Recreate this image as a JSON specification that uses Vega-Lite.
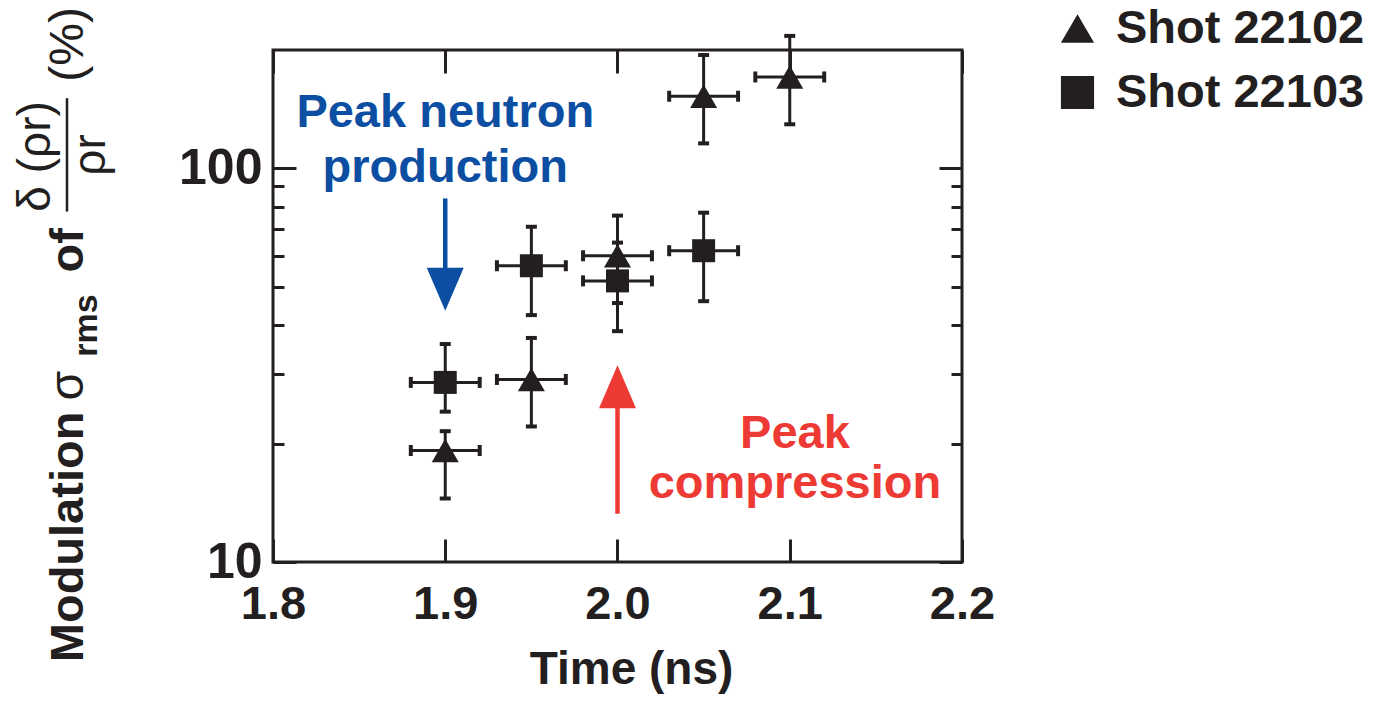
{
  "$schema": "https://vega.github.io/schema/vega-lite/v6.json",
  "width": 689,
  "height": 512,
  "autosize": "none",
  "padding": {"left": 273, "top": 50, "right": 418, "bottom": 141},
  "background": "white",
  "config": {
    "view": {"stroke": "#231f20", "strokeWidth": 3},
    "font": "Liberation Sans"
  },
  "datasets": {
    "shots": [
      {"series": "Shot 22102", "time": 1.90, "value": 19.2, "lo": 14.5, "hi": 21.5, "tlo": 1.88, "thi": 1.92},
      {"series": "Shot 22102", "time": 1.95, "value": 29.1, "lo": 22.1, "hi": 37.1, "tlo": 1.93, "thi": 1.97},
      {"series": "Shot 22102", "time": 2.00, "value": 60.0, "lo": 45.5, "hi": 75.9, "tlo": 1.98, "thi": 2.02},
      {"series": "Shot 22102", "time": 2.05, "value": 152.6, "lo": 115.8, "hi": 194.2, "tlo": 2.03, "thi": 2.07},
      {"series": "Shot 22102", "time": 2.10, "value": 170.8, "lo": 129.5, "hi": 217.2, "tlo": 2.08, "thi": 2.12},
      {"series": "Shot 22103", "time": 1.90, "value": 28.6, "lo": 24.1, "hi": 35.8, "tlo": 1.88, "thi": 1.92},
      {"series": "Shot 22103", "time": 1.95, "value": 56.6, "lo": 42.4, "hi": 71.1, "tlo": 1.93, "thi": 1.97},
      {"series": "Shot 22103", "time": 2.00, "value": 51.8, "lo": 38.6, "hi": 64.8, "tlo": 1.98, "thi": 2.02},
      {"series": "Shot 22103", "time": 2.05, "value": 61.8, "lo": 46.0, "hi": 77.2, "tlo": 2.03, "thi": 2.07}
    ],
    "blueArrow": [{"time": 1.9, "top": 83.9, "bottom": 52.4, "head": 49.3}],
    "redArrow": [{"time": 2.0, "top": 25.15, "bottom": 13.26, "head": 27.87}],
    "blueText": [
      {"text": "Peak neutron", "time": 1.9, "value": 127.2},
      {"text": "production", "time": 1.9, "value": 92.6}
    ],
    "redText": [
      {"text": "Peak", "time": 2.103, "value": 19.54},
      {"text": "compression", "time": 2.103, "value": 14.57}
    ],
    "titleBold": [
      {"text": "Modulation", "time": 1.6897, "value": 11.58},
      {"text": "of", "time": 1.6897, "value": 61.96}
    ],
    "titleRegular": [
      {"text": "σ", "time": 1.6897, "value": 28.04},
      {"text": "(%)", "time": 1.6897, "value": 206.6}
    ],
    "titleSub": [
      {"text": "rms", "time": 1.6978, "value": 39.88}
    ],
    "titleFrac": [
      {"text": "δ (ρr)", "time": 1.6705, "value": 107.3},
      {"text": "ρr", "time": 1.7025, "value": 108.2}
    ],
    "fracBar": [{"time": 1.6804, "lo": 77.7, "hi": 150.9}]
  },
  "layer": [
    {
      "data": {"name": "shots"},
      "mark": {"type": "errorbar", "ticks": {"size": 11, "thickness": 4, "opacity": 1, "color": "#231f20"}, "rule": {"strokeWidth": 3, "opacity": 1, "color": "#231f20"}, "color": "#231f20", "clip": false},
      "encoding": {
        "x": {"field": "time", "type": "quantitative", "scale": {"domain": [1.8, 2.2], "nice": false, "zero": false}, "axis": null},
        "y": {"field": "lo", "type": "quantitative", "scale": {"type": "log", "domain": [10, 200], "nice": false}, "axis": null},
        "y2": {"field": "hi"}
      }
    },
    {
      "data": {"name": "shots"},
      "mark": {"type": "errorbar", "ticks": {"size": 11, "thickness": 4, "opacity": 1, "color": "#231f20"}, "rule": {"strokeWidth": 3, "opacity": 1, "color": "#231f20"}, "color": "#231f20", "clip": false},
      "encoding": {
        "y": {"field": "value", "type": "quantitative", "scale": {"type": "log", "domain": [10, 200], "nice": false}, "axis": null},
        "x": {"field": "tlo", "type": "quantitative", "scale": {"domain": [1.8, 2.2], "nice": false, "zero": false}, "axis": null},
        "x2": {"field": "thi"}
      }
    },
    {
      "data": {"name": "shots"},
      "mark": {"type": "point", "filled": true, "color": "#231f20", "opacity": 1, "strokeWidth": 0},
      "encoding": {
        "x": {
          "field": "time", "type": "quantitative",
          "scale": {"domain": [1.8, 2.2], "nice": false, "zero": false},
          "axis": {
            "orient": "bottom", "values": [1.8, 1.9, 2.0, 2.1, 2.2], "format": ".1f",
            "title": "Time (ns)", "domain": false, "grid": false, "ticks": true,
            "tickSize": 0, "tickWidth": 3, "tickColor": "#231f20",
            "labelFont": "Liberation Sans", "labelFontSize": 47, "labelFontWeight": "bold", "labelColor": "#231f20",
            "labelPadding": 19, "labelFlush": false, "labelOverlap": false,
            "titleFont": "Liberation Sans", "titleFontSize": 46, "titleFontWeight": "bold", "titleColor": "#231f20",
            "titlePadding": 20, "titleX": 358,
            "encoding": {"ticks": {"y2": {"value": -23}}}
          }
        },
        "y": {
          "field": "value", "type": "quantitative",
          "scale": {"type": "log", "domain": [10, 200], "nice": false},
          "axis": {
            "orient": "left", "values": [10, 20, 30, 40, 50, 60, 70, 80, 90, 100], "format": "d",
            "labelExpr": "datum.value == 10 || datum.value == 100 ? datum.label : ''",
            "title": null, "domain": false, "grid": false, "ticks": true,
            "tickSize": 0, "tickWidth": 3, "tickColor": "#231f20",
            "labelFont": "Liberation Sans", "labelFontSize": 50, "labelFontWeight": "bold", "labelColor": "#231f20",
            "labelPadding": 11, "labelFlush": false, "labelOverlap": false,
            "encoding": {"ticks": {"x2": {"condition": {"test": "datum.value == 10 || datum.value == 100", "value": 23}, "value": 11}}}
          }
        },
        "shape": {
          "field": "series", "type": "nominal",
          "scale": {"domain": ["Shot 22102", "Shot 22103"], "range": ["triangle-up", "square"]},
          "legend": {
            "orient": "none", "legendX": 781, "legendY": -45, "title": null, "padding": 0,
            "labelFont": "Liberation Sans", "labelFontSize": 47, "labelFontWeight": "bold", "labelColor": "#231f20",
            "labelLimit": 500,
            "symbolSize": 1100, "symbolFillColor": "#231f20", "symbolStrokeWidth": 0, "symbolOpacity": 1,
            "rowPadding": 16, "labelOffset": 15
          }
        },
        "size": {"condition": {"test": "datum.series == 'Shot 22102'", "value": 729}, "value": 529}
      }
    },
    {
      "data": {"name": "blueArrow"},
      "mark": {"type": "rule", "color": "#0b4ea2", "strokeWidth": 4.5},
      "encoding": {
        "x": {
          "field": "time", "type": "quantitative",
          "scale": {"domain": [1.8, 2.2], "nice": false, "zero": false},
          "axis": {
            "orient": "top", "values": [1.8, 1.9, 2.0, 2.1, 2.2], "labels": false, "title": null,
            "domain": false, "grid": false, "ticks": true, "tickSize": 0, "tickWidth": 3, "tickColor": "#231f20",
            "encoding": {"ticks": {"y2": {"value": 23}}}
          }
        },
        "y": {
          "field": "top", "type": "quantitative",
          "scale": {"type": "log", "domain": [10, 200], "nice": false},
          "axis": {
            "orient": "right", "values": [10, 20, 30, 40, 50, 60, 70, 80, 90, 100], "labels": false, "title": null,
            "domain": false, "grid": false, "ticks": true, "tickSize": 0, "tickWidth": 3, "tickColor": "#231f20",
            "encoding": {"ticks": {"x2": {"condition": {"test": "datum.value == 10 || datum.value == 100", "value": -23}, "value": -11}}}
          }
        },
        "y2": {"field": "bottom"}
      }
    },
    {
      "data": {"name": "blueArrow"},
      "mark": {"type": "point", "shape": "M-0.86,-1L0.86,-1L0,1Z", "size": 1849, "filled": true, "color": "#0b4ea2", "opacity": 1, "strokeWidth": 0},
      "encoding": {
        "x": {"field": "time", "type": "quantitative", "scale": {"domain": [1.8, 2.2], "nice": false, "zero": false}, "axis": null},
        "y": {"field": "head", "type": "quantitative", "scale": {"type": "log", "domain": [10, 200], "nice": false}, "axis": null}
      }
    },
    {
      "data": {"name": "redArrow"},
      "mark": {"type": "rule", "color": "#ee3a34", "strokeWidth": 4.5},
      "encoding": {
        "x": {"field": "time", "type": "quantitative", "scale": {"domain": [1.8, 2.2], "nice": false, "zero": false}, "axis": null},
        "y": {"field": "top", "type": "quantitative", "scale": {"type": "log", "domain": [10, 200], "nice": false}, "axis": null},
        "y2": {"field": "bottom"}
      }
    },
    {
      "data": {"name": "redArrow"},
      "mark": {"type": "point", "shape": "M0,-1L0.86,1L-0.86,1Z", "size": 1849, "filled": true, "color": "#ee3a34", "opacity": 1, "strokeWidth": 0},
      "encoding": {
        "x": {"field": "time", "type": "quantitative", "scale": {"domain": [1.8, 2.2], "nice": false, "zero": false}, "axis": null},
        "y": {"field": "head", "type": "quantitative", "scale": {"type": "log", "domain": [10, 200], "nice": false}, "axis": null}
      }
    },
    {
      "data": {"name": "blueText"},
      "mark": {"type": "text", "font": "Liberation Sans", "fontSize": 47, "fontWeight": "bold", "color": "#0b4ea2", "align": "center", "baseline": "alphabetic"},
      "encoding": {
        "x": {"field": "time", "type": "quantitative", "scale": {"domain": [1.8, 2.2], "nice": false, "zero": false}, "axis": null},
        "y": {"field": "value", "type": "quantitative", "scale": {"type": "log", "domain": [10, 200], "nice": false}, "axis": null},
        "text": {"field": "text"}
      }
    },
    {
      "data": {"name": "redText"},
      "mark": {"type": "text", "font": "Liberation Sans", "fontSize": 47, "fontWeight": "bold", "color": "#ee3a34", "align": "center", "baseline": "alphabetic"},
      "encoding": {
        "x": {"field": "time", "type": "quantitative", "scale": {"domain": [1.8, 2.2], "nice": false, "zero": false}, "axis": null},
        "y": {"field": "value", "type": "quantitative", "scale": {"type": "log", "domain": [10, 200], "nice": false}, "axis": null},
        "text": {"field": "text"}
      }
    },
    {
      "data": {"name": "titleBold"},
      "mark": {"type": "text", "font": "Liberation Sans", "fontSize": 47, "fontWeight": "bold", "color": "#231f20", "align": "center", "baseline": "alphabetic", "angle": 270},
      "encoding": {
        "x": {"field": "time", "type": "quantitative", "scale": {"domain": [1.8, 2.2], "nice": false, "zero": false}, "axis": null},
        "y": {"field": "value", "type": "quantitative", "scale": {"type": "log", "domain": [10, 200], "nice": false}, "axis": null},
        "text": {"field": "text"}
      }
    },
    {
      "data": {"name": "titleRegular"},
      "mark": {"type": "text", "font": "Liberation Sans", "fontSize": 48, "fontWeight": "normal", "color": "#231f20", "align": "center", "baseline": "alphabetic", "angle": 270},
      "encoding": {
        "x": {"field": "time", "type": "quantitative", "scale": {"domain": [1.8, 2.2], "nice": false, "zero": false}, "axis": null},
        "y": {"field": "value", "type": "quantitative", "scale": {"type": "log", "domain": [10, 200], "nice": false}, "axis": null},
        "text": {"field": "text"}
      }
    },
    {
      "data": {"name": "titleSub"},
      "mark": {"type": "text", "font": "Liberation Sans", "fontSize": 34, "fontWeight": "bold", "color": "#231f20", "align": "center", "baseline": "alphabetic", "angle": 270},
      "encoding": {
        "x": {"field": "time", "type": "quantitative", "scale": {"domain": [1.8, 2.2], "nice": false, "zero": false}, "axis": null},
        "y": {"field": "value", "type": "quantitative", "scale": {"type": "log", "domain": [10, 200], "nice": false}, "axis": null},
        "text": {"field": "text"}
      }
    },
    {
      "data": {"name": "titleFrac"},
      "mark": {"type": "text", "font": "Liberation Sans", "fontSize": 46, "fontWeight": "normal", "color": "#231f20", "align": "center", "baseline": "alphabetic", "angle": 270},
      "encoding": {
        "x": {"field": "time", "type": "quantitative", "scale": {"domain": [1.8, 2.2], "nice": false, "zero": false}, "axis": null},
        "y": {"field": "value", "type": "quantitative", "scale": {"type": "log", "domain": [10, 200], "nice": false}, "axis": null},
        "text": {"field": "text"}
      }
    },
    {
      "data": {"name": "fracBar"},
      "mark": {"type": "rule", "color": "#231f20", "strokeWidth": 2.5},
      "encoding": {
        "x": {"field": "time", "type": "quantitative", "scale": {"domain": [1.8, 2.2], "nice": false, "zero": false}, "axis": null},
        "y": {"field": "lo", "type": "quantitative", "scale": {"type": "log", "domain": [10, 200], "nice": false}, "axis": null},
        "y2": {"field": "hi"}
      }
    }
  ],
  "resolve": {"axis": {"x": "independent", "y": "independent"}}
}
